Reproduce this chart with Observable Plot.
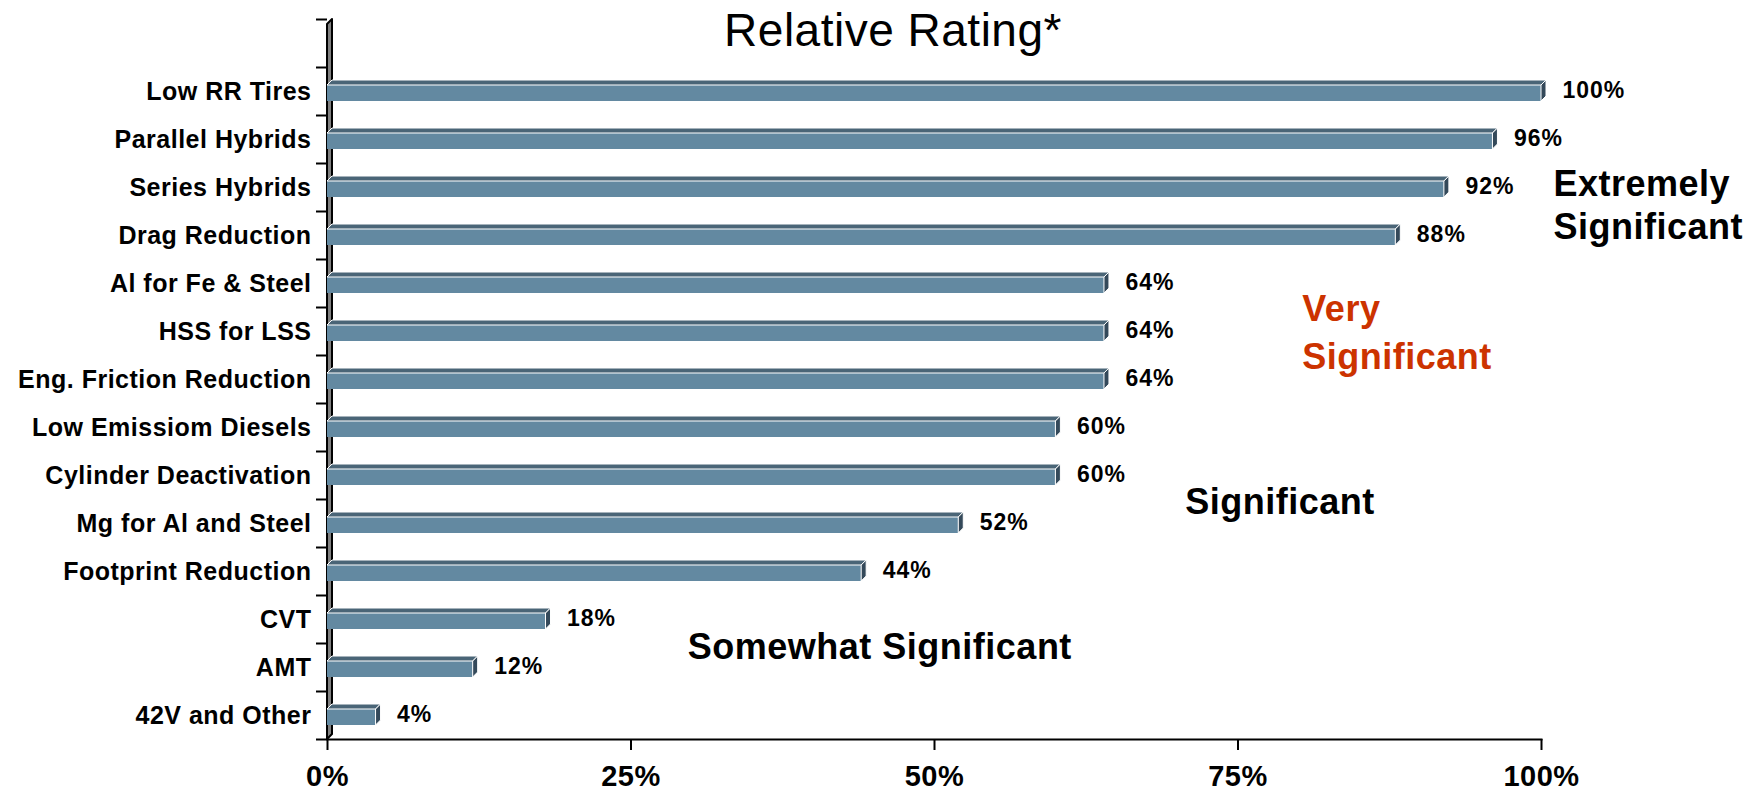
<!DOCTYPE html>
<html>
<head>
<meta charset="utf-8">
<script src="https://cdn.jsdelivr.net/npm/d3@7"></script>
<script src="https://cdn.jsdelivr.net/npm/@observablehq/plot@0.6"></script>
<style>
  html, body { margin: 0; padding: 0; background: #fff; }
</style>
</head>
<body>
<div id="chart"></div>
<script>
const title = "Relative Rating*";
const categories = [
  "Low RR Tires", "Parallel Hybrids", "Series Hybrids", "Drag Reduction",
  "Al for Fe & Steel", "HSS for LSS", "Eng. Friction Reduction",
  "Low Emissiom Diesels", "Cylinder Deactivation", "Mg for Al and Steel",
  "Footprint Reduction", "CVT", "AMT", "42V and Other"
];
const ratings = [1.00, 0.96, 0.92, 0.88, 0.64, 0.64, 0.64, 0.60, 0.60, 0.52, 0.44, 0.18, 0.12, 0.04];
const xTicks = [0, 0.25, 0.5, 0.75, 1];
const tierLabels = ["Extremely\nSignificant", "Very\nSignificant", "Significant", "Somewhat Significant"];

const rows = categories.map((category, i) => ({category, rating: ratings[i]}));
const yDomain = ["", ...categories];
const pct = d3.format(".0%");
const font = "'Liberation Sans', Arial, Helvetica, sans-serif";

const plot = Plot.plot({
  width: 1760,
  height: 794,
  marginLeft: 327,
  marginRight: 219,
  marginTop: 19,
  marginBottom: 55,
  style: {fontFamily: font, background: "#fff", color: "#000", letterSpacing: "0.5px", overflow: "visible"},
  x: {domain: [0, 1], label: null},
  y: {domain: yDomain, padding: 0, label: null},
  marks: [
    Plot.frame({anchor: "bottom", stroke: "#000", strokeWidth: 2}),
    Plot.barX(rows, {x: "rating", y: "category", fill: "#6389a1", insetTop: 18, insetBottom: 14}),
    Plot.axisY(yDomain, {tickSize: 11, tickFormat: () => "", dy: -24, strokeWidth: 2, label: null}),
    Plot.axisY(categories.slice(-1), {tickSize: 11, tickFormat: () => "", dy: 24, strokeWidth: 2, label: null}),
    Plot.axisY(categories, {tickSize: 0, tickPadding: 16, fontSize: 25, fontWeight: "bold", label: null}),
    Plot.axisX(xTicks, {tickSize: 11, tickPadding: 15, strokeWidth: 2, tickFormat: pct, fontSize: 29, fontWeight: "bold", label: null}),
    Plot.text(rows, {x: "rating", y: "category", text: d => pct(d.rating), dx: 21, dy: -1, textAnchor: "start", fontSize: 23, fontWeight: "bold", fill: "#000"}),
    Plot.text([title], {text: d => d, frameAnchor: "top", lineAnchor: "middle", dx: -41.5, dy: 11.5, fontSize: 46, fontWeight: "normal", fill: "#000"}),
    Plot.text([tierLabels[0]], {text: d => d, x: [1.0099], y: ["Series Hybrids"], dy: 16, textAnchor: "start", lineAnchor: "middle", lineHeight: 1.194, fontSize: 36, fontWeight: "bold", fill: "#000"}),
    Plot.text([tierLabels[1]], {text: d => d, x: [0.803], y: ["HSS for LSS"], dy: -2, textAnchor: "start", lineAnchor: "middle", lineHeight: 1.333, fontSize: 36, fontWeight: "bold", fill: "#cc3300"}),
    Plot.text([tierLabels[2]], {text: d => d, x: [0.7065], y: ["Mg for Al and Steel"], dy: -21.5, textAnchor: "start", lineAnchor: "middle", fontSize: 36, fontWeight: "bold", fill: "#000"}),
    Plot.text([tierLabels[3]], {text: d => d, x: [0.2968], y: ["AMT"], dy: -20.5, textAnchor: "start", lineAnchor: "middle", fontSize: 36, fontWeight: "bold", fill: "#000"})
  ]
});

document.getElementById("chart").appendChild(plot);

// value labels: slightly wider spacing, like the reference
d3.select(plot).selectAll("g[aria-label='text']").filter((_, i) => i === 0).attr("letter-spacing", "1px");

// 3D decoration derived from the library's scales and rendered bars
const svg = d3.select(plot);
const xs = plot.scale("x"), ys = plot.scale("y");
const x0 = xs.apply(0);
const [yTop, yBot] = ys.range;
const depth = 5;
svg.insert("polygon", "g[aria-label='bar']")
  .attr("points", [[x0, yTop + depth], [x0 + depth, yTop], [x0 + depth, yBot - depth], [x0, yBot]].join(" "))
  .attr("fill", "#808080").attr("stroke", "#000").attr("stroke-width", 2).attr("stroke-linejoin", "round");

const barG = svg.select("g[aria-label='bar']");
const rects = barG.selectAll("rect").nodes();
for (const node of rects) {
  const rx = +node.getAttribute("x"), ry = +node.getAttribute("y");
  const w = +node.getAttribute("width"), h = +node.getAttribute("height");
  barG.append("polygon")
    .attr("points", [[rx, ry], [rx + depth, ry - depth], [rx + w + depth, ry - depth], [rx + w, ry]].join(" "))
    .attr("fill", "#4a6577").attr("stroke", "#fff").attr("stroke-width", 1);
  barG.append("polygon")
    .attr("points", [[rx + w, ry], [rx + w + depth, ry - depth], [rx + w + depth, ry + h - depth], [rx + w, ry + h]].join(" "))
    .attr("fill", "#34495a").attr("stroke", "#fff").attr("stroke-width", 1);
}
</script>
</body>
</html>
